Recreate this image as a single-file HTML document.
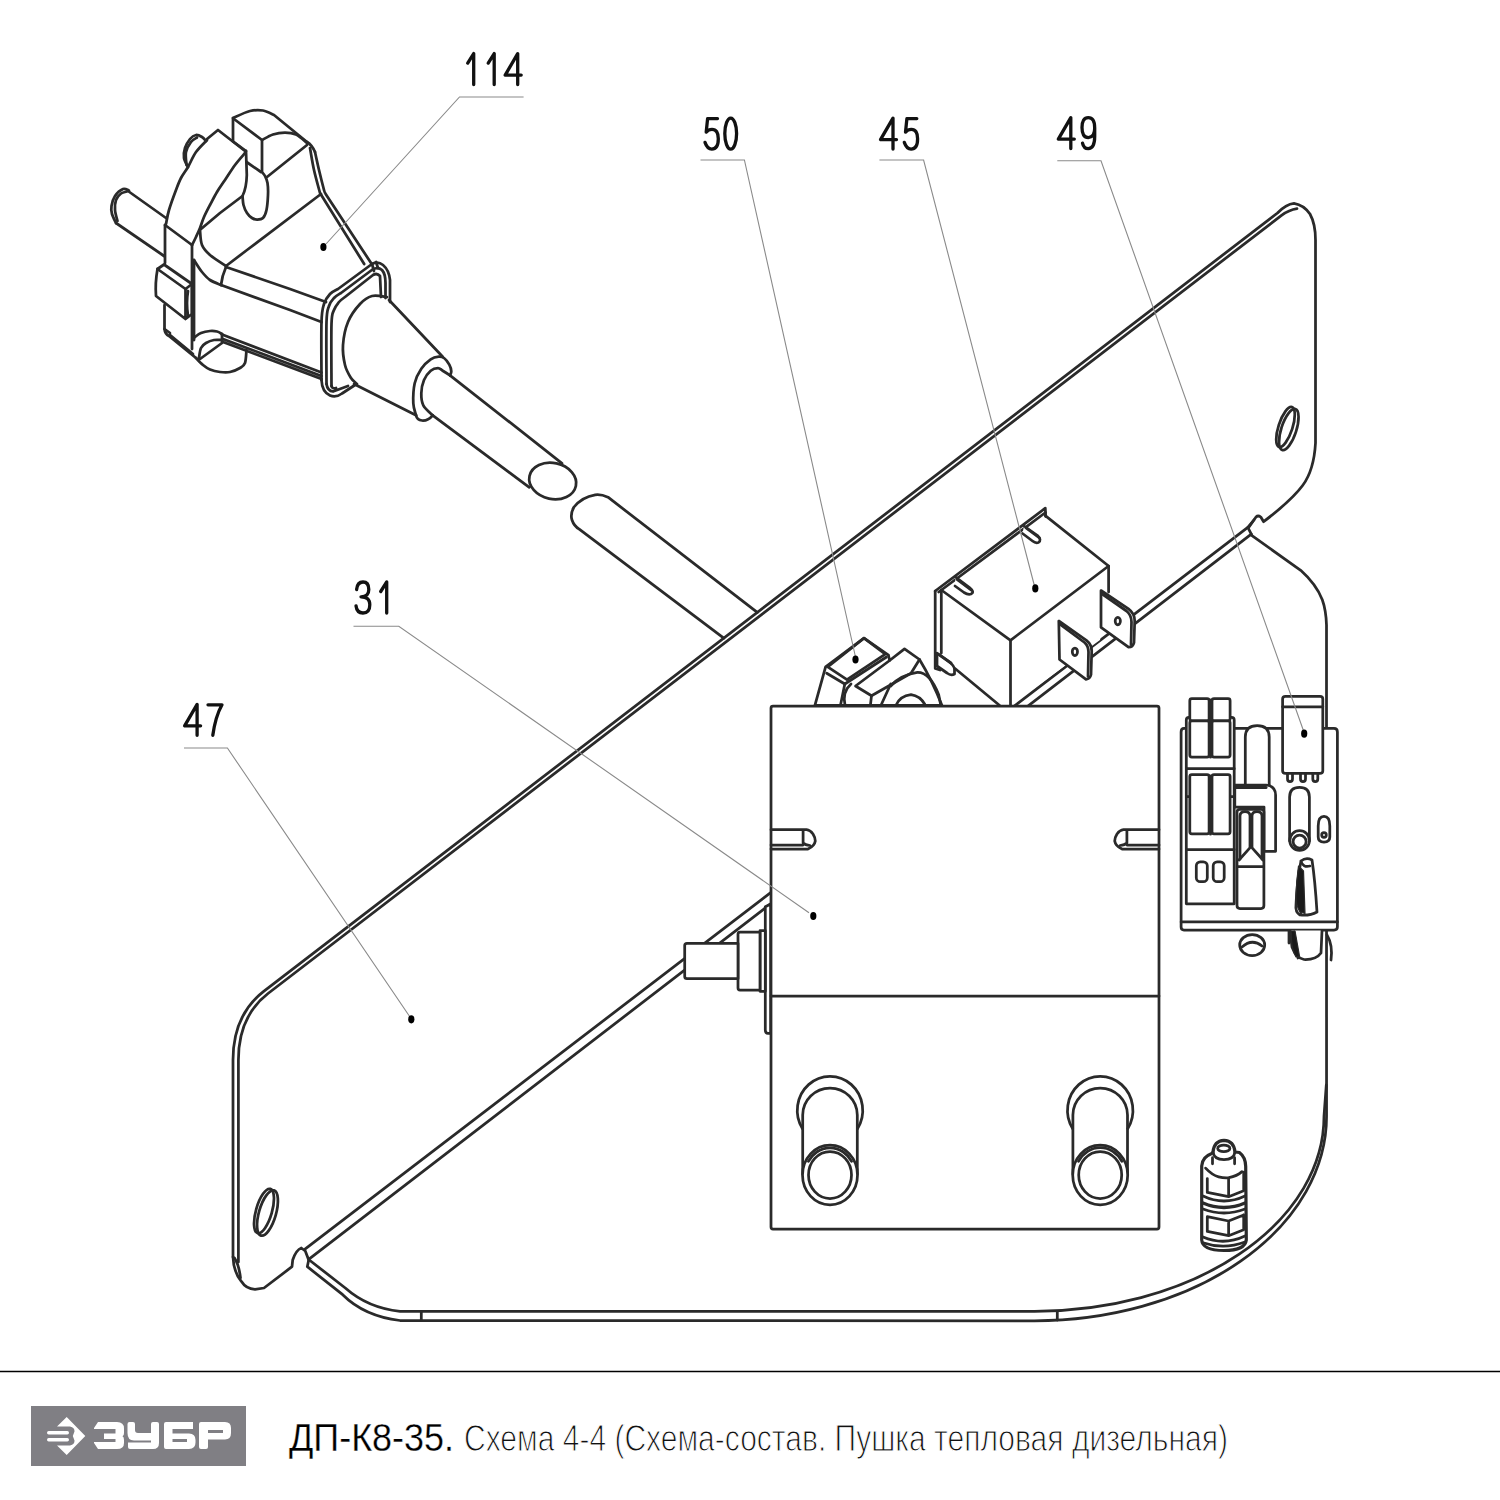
<!DOCTYPE html>
<html><head><meta charset="utf-8">
<style>
html,body{margin:0;padding:0;background:#fff;}
body{width:1500px;height:1500px;overflow:hidden;position:relative;}
svg{position:absolute;left:0;top:0;}
</style></head><body>
<svg width="1500" height="1500" viewBox="0 0 1500 1500">
<g fill="none" stroke="#2a2a2a" stroke-width="2.75" stroke-linejoin="round" stroke-linecap="round">
<path d="M233 1257 L233 1060 Q233 1015 264 991.1 L1277.5 213 Q1286 204 1294 203.3 Q1304 205 1310 214 Q1315.5 224 1315.5 240 L1315.5 443 Q1314 470 1302.8 485.3 Q1292 500 1263.6 521.7 L1260.8 517 Q1258 515 1256 517 L1248.7 527.5"/>
<path d="M238.4 1262 L238.4 1060 Q238.4 1016.5 268 993.5 L1281.5 215.4 Q1289 210 1297 208.7"/>
<path d="M233 1257 Q233.5 1272 241.3 1281.3 Q246 1289 255 1289.3 L264 1288 L292 1266.7 L292.7 1260 Q296 1250 301.3 1248 L305.3 1251 L308.7 1260"/>
<path d="M234.5 1258 Q239 1265 240.5 1278"/>
<ellipse cx="1285.5" cy="427" rx="7" ry="21" transform="rotate(18 1285.5 427)"/>
<ellipse cx="1288.8" cy="429.5" rx="7.5" ry="21.5" transform="rotate(18 1288.8 429.5)"/>
<ellipse cx="264" cy="1211" rx="8" ry="23" transform="rotate(16 264 1211)"/>
<ellipse cx="267.5" cy="1213" rx="8.5" ry="23.5" transform="rotate(16 267.5 1213)"/>
<path d="M305.3 1248.9 L1247.8 527.4 L1253.9 520.0"/>
<path d="M309.3 1258.8 L1251.3 534.2"/>
<path d="M1247.8 527.4 L1251.3 534.2"/>
<path d="M309.3 1260 L345.3 1288 Q368 1308 400 1311.3 L1034.5 1311.3 A289.5 195 0 0 0 1324 1116.3 L1326.3 1085"/>
<path d="M308.7 1260 L307.3 1266.7 L342.7 1294.7 Q364 1316 400 1320.5 L1034.5 1320.8 A292.06 204.5 0 0 0 1326.55 1116.3 L1326.5 625 Q1326 610 1322.3 599.7 Q1316 584 1300.7 570.3 L1251.3 535.2"/>
<path d="M421.3 1311.3 L421.3 1320 M1057.3 1311.3 L1057.3 1320"/>
</g>
<g fill="none" stroke="#2a2a2a" stroke-width="2.75" stroke-linejoin="round" stroke-linecap="round">
<path d="M935.2 591 L1045.3 508.2 L1045.7 516 L1108.6 566 L1108.6 600 L1100 640 L1011 705.5 L999.7 705.5 L955.3 668.7 L935.2 668 Z" fill="#fff" stroke="none"/>
<path d="M935.2 591 L1045.3 508.2 L1045.7 516.5"/>
<path d="M938.7 592 L1045.5 512.5"/>
<path d="M935.2 591 L935.2 668.5 L940 670 M941.3 590.1 L941.3 653"/>
<path d="M942 590.5 L1010.5 640.3 L1108.6 566 L1045.3 515.6"/>
<path d="M1010.5 640.3 L1010.5 705.5"/>
<path d="M1108.6 566 L1108.6 592"/>
<path d="M955.3 668.7 L999.7 705.5"/>
<path d="M937 653 L948 661 Q955 666 954.5 670 L954.5 674 Q951 676 947 673 L937 666 Z" fill="#fff"/>
<path d="M939.5 655 L951 663"/>
<path d="M955.5 577 L969.5 587.5 Q975 592 971 594 Q968 595 964 592.5 L955 586" fill="#fff"/>
<path d="M957 579.5 L971 590"/>
<path d="M1024 526 L1037.5 535.5 Q1042 540 1038.5 542.5 Q1035.5 543.5 1032.5 541 L1022.5 533.5" fill="#fff"/>
<path d="M1026 528 L1039.5 538"/>
<path d="M1058.8 621 L1086.4 640.3 Q1091.7 644.5 1091.7 651 L1091 674.8 Q1090 679 1086 679.4 L1059.5 659.5 Z" fill="#fff"/>
<path d="M1059.5 624 L1084.5 642.5 Q1088.5 646 1088.5 652 L1088 676.5"/>
<ellipse cx="1074.9" cy="651.8" rx="2.6" ry="3.8"/>
<path d="M1101 590.5 L1128.5 608.9 Q1134.7 613.5 1134.7 621 L1134 642.6 Q1133 647 1128.5 647.2 L1101 627.3 Z" fill="#fff"/>
<path d="M1101.5 593.5 L1126.5 611 Q1131.5 615 1131.5 622 L1131 644.5"/>
<ellipse cx="1117.8" cy="621.1" rx="2.6" ry="3.8"/>
</g>
<g fill="none" stroke="#2a2a2a" stroke-width="2.75" stroke-linejoin="round" stroke-linecap="round">
<path d="M814.9 705.3 L825.6 666.9 L864 638.1 L888.5 655.2 L889.6 660.5 L904.5 648.8 L919.5 659.5 Q932 680 941.9 705.3 Z" fill="#fff"/>
<path d="M827.7 666.9 L864 638.1 L885.3 654.1 L847 679.7 Z"/>
<path d="M826.7 673.3 L844.8 684 L886.5 657"/>
<path d="M844.8 684 L840.5 705.3"/>
<path d="M851 684 Q842 692 845 705.3"/>
<path d="M889.6 660.5 L855.5 686 L871.5 695.7 L911 673.3 L919.5 659.5"/>
<path d="M871.5 695.7 L870.4 705.3 M881 705.3 L890.7 684"/>
<path d="M890.7 686 Q900 675 917.3 672.3 Q930 672 938.7 694.7 L940.8 705.3"/>
<path d="M896 705.3 Q900 696 911 694.7 Q920 696 924.8 704.3"/>
</g>
<g fill="none" stroke="#2a2a2a" stroke-width="2.75" stroke-linejoin="round" stroke-linecap="round">
<path d="M1181.1 732 Q1181.1 728.4 1184 728.4 L1334 728.4 Q1337.4 728.4 1337.4 732 L1337.4 927 Q1337.4 930 1334 930 L1184 930 Q1181.1 930 1181.1 927 Z" fill="#fff"/>
<path d="M1181.1 921.9 L1337.4 921.9"/>
<path d="M1186.3 720 Q1186.3 717.3 1189 717.3 L1231.5 717.3 Q1234.2 717.3 1234.2 720 L1234.2 903.8 L1186.3 903.8 Z" fill="#fff"/>
<path d="M1186.3 768.7 L1234.2 768.7 M1186.3 849.6 L1234.2 849.6 M1186.3 796.7 L1234.2 796.7"/>
<rect x="1189.8" y="698.7" width="19.3" height="22.1" rx="2" fill="#fff"/>
<rect x="1189.8" y="720.8" width="19.3" height="36.2" rx="2" fill="#fff"/>
<rect x="1189.8" y="774.5" width="19.3" height="59.3" rx="2" fill="#fff"/>
<rect x="1212.0" y="698.7" width="18.1" height="22.1" rx="2" fill="#fff"/>
<rect x="1212.0" y="720.8" width="18.1" height="36.2" rx="2" fill="#fff"/>
<rect x="1212.0" y="774.5" width="18.1" height="59.3" rx="2" fill="#fff"/>
<path d="M1210.5 700 L1210.5 757 M1210.5 776 L1210.5 834" stroke-width="3"/>
<rect x="1196.3" y="861.8" width="11" height="19.9" rx="4"/>
<rect x="1213.2" y="861.8" width="11" height="19.9" rx="4"/>
<path d="M1245.3 785 L1245.3 737 Q1245.3 725.5 1257.2 725.5 Q1269.2 725.5 1269.2 737 L1269.2 785" fill="#fff"/>
<path d="M1234.8 785 L1266 785 Q1275.6 786 1275.6 795 L1275.6 851.3 L1264 851.3 L1264 807 L1234.8 807 Z" fill="#fff"/>
<path d="M1234.8 787.5 L1266 787.5" stroke-width="3"/>
<path d="M1237 812 Q1237 809.3 1240 809.3 L1261 809.3 Q1263.9 809.3 1263.9 812 L1263.9 905.5 Q1263.9 908.5 1261 908.5 L1240 908.5 Q1237 908.5 1237 905.5 Z" fill="#fff"/>
<path d="M1240 859 L1240 816 Q1240 811.5 1245 811.5 Q1250 811.5 1250 816 L1250 846.7 M1252 846.7 L1252 816 Q1252 811.5 1257 811.5 Q1262 811.5 1262 816 L1262 859"/>
<path d="M1239 860 L1251 846.7 L1263 860 M1238 866.5 L1263.5 866.5"/>
<path d="M1282.6 699 Q1282.6 696.3 1285.5 696.3 L1320 696.3 Q1322.8 696.3 1322.8 699 L1322.8 771 Q1322.8 773.3 1320 773.3 L1285.5 773.3 Q1282.6 773.3 1282.6 771 Z" fill="#fff"/>
<path d="M1282.6 706.8 L1322.8 706.8"/>
<path d="M1287.5 773.3 L1287.5 779 Q1287.5 781.5 1290.0 781.5 Q1292.5 781.5 1292.5 779 L1292.5 773.3"/>
<path d="M1300.5 773.3 L1300.5 779 Q1300.5 781.5 1303.0 781.5 Q1305.5 781.5 1305.5 779 L1305.5 773.3"/>
<path d="M1312.8 773.3 L1312.8 779 Q1312.8 781.5 1315.3 781.5 Q1317.8 781.5 1317.8 779 L1317.8 773.3"/>
<path d="M1289.6 841 L1289.6 797 Q1289.6 787.3 1299.5 787.3 Q1309.4 787.3 1309.4 797 L1309.4 841" fill="#fff"/>
<circle cx="1299.6" cy="840.5" r="9.8" fill="#fff"/>
<circle cx="1299.6" cy="841.5" r="6.5"/>
<path d="M1318.2 826 Q1318.2 816.3 1324 816.3 Q1329.8 816.3 1329.8 826 L1329.8 837 Q1329.8 842 1324 842 Q1318.2 842 1318.2 837 Z" fill="#fff"/>
<circle cx="1324" cy="835" r="2.3"/>
<path d="M1301 861 Q1306 857 1312 860 Q1315 880 1317 912 Q1310 916 1300 915 Q1295 912 1296 905 Q1297 880 1301 861 Z" fill="#fff"/>
<path d="M1301 861 Q1303 868 1310 866 M1299 870 Q1298 890 1301 913" stroke-width="2.6"/>
<path d="M1298.5 866 L1303.5 871 L1305 913.5 L1300 912 Q1296 906 1296 896 Q1296.5 880 1298.5 866 Z" fill="#1a1a1a" stroke-width="1.2"/>
<ellipse cx="1252.2" cy="945.1" rx="12.5" ry="10.5"/>
<path d="M1242 947 Q1252 938 1262 946"/>
<path d="M1290 930.5 L1292 947 Q1296 958 1304 959.5 Q1316 960 1321 953 L1322 930.5" fill="#fff"/>
<path d="M1289 930.5 L1289 943 M1294 932 L1298 958"/>
<path d="M1291 931 L1295 931 L1299.5 956 L1296 957 Q1292 950 1291.5 940 Z" fill="#1a1a1a" stroke-width="1.2"/>
<path d="M1327 935 Q1333 945 1331 960"/>
</g>
<g fill="none" stroke="#2a2a2a" stroke-width="2.75" stroke-linejoin="round" stroke-linecap="round">
<path d="M1201.7 1166 Q1202 1157 1211.7 1153.4 L1213 1152 Q1214 1141 1224 1140.4 Q1234 1141 1235 1152 L1239.4 1152.5 Q1245.5 1157 1245.7 1166.4 L1246.3 1240 Q1245 1250.5 1224 1250.5 Q1202.5 1250.5 1201.7 1240 Z" fill="#fff" stroke-width="3.2"/>
<path d="M1213 1152 Q1214 1159.5 1224 1159.5 Q1234 1159.5 1235 1152"/>
<ellipse cx="1223.8" cy="1148.4" rx="6.1" ry="3.3"/>
<path d="M1212.5 1157.7 L1212.5 1163.8 M1234.6 1157.7 L1234.6 1163.8"/>
<path d="M1205.6 1168.1 Q1212 1175 1218.6 1176.8 Q1224 1178.2 1229 1177.7 Q1237 1176 1242 1171.6"/>
<path d="M1207.3 1178.5 L1207.3 1192.4 L1228.6 1196.7 L1243.7 1190.7 M1228.6 1178 L1228.6 1196.7 M1243.7 1172 L1243.7 1190.7"/>
<path d="M1203 1196 Q1224 1206 1245 1196" stroke-width="2.8"/>
<path d="M1203 1203 Q1224 1212 1245 1203" stroke-width="3.4"/>
<path d="M1203 1209 Q1224 1217 1245 1209" stroke-width="2.8"/>
<path d="M1207.3 1216.7 L1228.6 1221 L1243.7 1214.9 M1207.3 1216.7 L1207.3 1231.4 L1228.6 1235.7 L1243.7 1229.7 M1228.6 1221 L1228.6 1235.7 M1243.7 1214.9 L1243.7 1229.7"/>
<path d="M1203 1237 Q1224 1246 1245 1236" stroke-width="2.8"/>
<path d="M1203 1242.7 Q1224 1250 1245 1242" stroke-width="2.8"/>
</g>
<g fill="none" stroke="#2a2a2a" stroke-width="2.75" stroke-linejoin="round" stroke-linecap="round">
<path d="M765.3 906.7 L770.7 904 L770.7 1033.3 L768 1033.3 Q765.3 1033.3 765.3 1030 Z" fill="#fff"/>
<path d="M760 930.7 L765.3 930.7 L765.3 991.3 L760 991.3 Z" fill="#fff"/>
<path d="M738 934 Q738 932 740 932 L760 932 L760 990 L740 990 Q738 990 738 988 Z" fill="#fff"/>
<path d="M684.7 945.5 Q684.7 943.3 687 943.3 L738 943.3 L738 978.7 L687 978.7 Q684.7 978.7 684.7 976.5 Z" fill="#fff"/>
</g>
<g fill="none" stroke="#2a2a2a" stroke-width="2.75" stroke-linejoin="round" stroke-linecap="round">
<rect x="771" y="706" width="388" height="523" rx="2" fill="#fff"/>
<path d="M771 996 L1159 996"/>
<path d="M771 829.7 L806.6 829.7 Q810 830 813 834 Q815.5 838 815.3 841 Q814.5 846 808 849 L771 849"/>
<path d="M803.1 830.5 L803.1 843 Q805 845 810 845.5"/>
<path d="M771 845 L803 845"/>
<g transform="translate(1930 0) scale(-1 1)"><path d="M771 829.7 L806.6 829.7 Q810 830 813 834 Q815.5 838 815.3 841 Q814.5 846 808 849 L771 849"/>
<path d="M803.1 830.5 L803.1 843 Q805 845 810 845.5"/>
<path d="M771 845 L803 845"/>
</g>
<path d="M802.5 1128.7 A32.7 34 0 1 1 857.5 1128.7"/>
<path d="M802.7 1174 L802.7 1115 A27.3 27 0 0 1 857.3 1115 L857.3 1174"/>
<ellipse cx="830.0" cy="1175" rx="27.5" ry="29.8" fill="#fff"/>
<path d="M808.4 1161.4 A25 27.3 0 0 1 851.6 1161.4"/>
<ellipse cx="830.0" cy="1175" rx="21.5" ry="23.5"/>
<path d="M1072.7 1128.7 A32.7 34 0 1 1 1127.7 1128.7"/>
<path d="M1072.9 1174 L1072.9 1115 A27.3 27 0 0 1 1127.5 1115 L1127.5 1174"/>
<ellipse cx="1100.2" cy="1175" rx="27.5" ry="29.8" fill="#fff"/>
<path d="M1078.5 1161.4 A25 27.3 0 0 1 1121.9 1161.4"/>
<ellipse cx="1100.2" cy="1175" rx="21.5" ry="23.5"/>
</g>
<g fill="none" stroke="#2a2a2a" stroke-width="2.75" stroke-linejoin="round" stroke-linecap="round">
<path d="M757.3 612.4 L608 497.2 Q601 494 595.2 494.8 Q582 497 574 507 Q570 514 572 520 Q574 526 579.2 529.2 L723.8 638.1"/>
<path d="M450 375.3 L562 463.3"/>
<path d="M432.7 415.3 L529.3 487.3"/>
<ellipse cx="552.7" cy="481" rx="23.7" ry="18" transform="rotate(12 552.7 481)"/>
<path d="M416.0 415.3 C415.6 413.3 413.5 408.6 413.3 403.3 C413.1 398.0 413.4 389.1 414.7 383.3 C416.0 377.5 418.6 372.7 421.3 368.7 C424.0 364.7 427.8 361.3 430.7 359.3 C433.6 357.3 436.5 356.9 438.7 356.7 C440.9 356.5 442.2 356.7 444.0 358.0 C445.8 359.3 448.1 362.5 449.3 364.7 C450.5 366.9 451.2 369.5 451.3 371.3 C451.4 373.1 450.2 374.6 450.0 375.3"/>
<path d="M416 415.3 Q417 420 422 420.5 Q428 421 432.7 415.3"/>
<path d="M432.7 415.3 C431.1 413.6 425.2 409.0 423.3 405.3 C421.4 401.6 421.2 397.5 421.3 393.3 C421.4 389.1 422.4 383.8 424.0 380.0 C425.6 376.2 428.4 372.7 430.7 370.7 C433.0 368.7 436.0 368.0 438.0 368.0 C440.0 368.0 440.7 369.5 442.7 370.7 C444.7 371.9 448.8 374.5 450.0 375.3"/>
<path d="M389 300 L442.7 356.7"/>
<path d="M354 384 L416 415.3"/>
<path d="M321.5 380.0 C321.5 370.3 321.1 334.7 321.5 322.0 C321.9 309.3 322.6 308.7 324.0 304.0 C325.4 299.3 327.7 296.5 330.0 294.0 C332.3 291.5 336.7 289.8 338.0 289.0 L372 264 Q378 261 383 265 Q389 270 390 280 L390 302"/>
<path d="M321.5 380 Q322 392 330 395.5 Q336 398 342 393.5 L355 385"/>
<path d="M326.5 384.0 C326.5 373.7 326.1 335.0 326.5 322.0 C326.9 309.0 327.8 310.0 329.0 306.0 C330.2 302.0 332.0 300.2 334.0 298.0 C336.0 295.8 339.8 293.8 341.0 293.0 L372.5 269.5 Q378 266.5 382 270 Q385.5 274 385.5 283 L385.5 298"/>
<path d="M331.5 386.0 C331.5 375.7 331.1 336.7 331.5 324.0 C331.9 311.3 332.8 313.7 334.0 310.0 C335.2 306.3 337.2 304.2 339.0 302.0 C340.8 299.8 344.0 297.8 345.0 297.0 L373 275 Q377 272.5 380 276 L381 297"/>
<path d="M326.5 384 Q327.5 391 333 391.5 L348 386 M331.5 386 Q332 389 336 388"/>
<path d="M372 264 L374 271 M376 262 L378 268"/>
<path d="M387.0 297.0 C384.5 296.8 376.5 294.8 372.0 296.0 C367.5 297.2 364.0 299.7 360.0 304.0 C356.0 308.3 350.8 315.2 348.0 322.0 C345.2 328.8 343.5 337.8 343.0 345.0 C342.5 352.2 343.7 359.5 345.0 365.0 C346.3 370.5 349.0 374.8 351.0 378.0 C353.0 381.2 356.0 383.0 357.0 384.0"/>
<path d="M310.0 148.0 C310.7 151.7 312.3 162.5 314.0 170.0 C315.7 177.5 319.0 189.2 320.0 193.0 L364.2 264"/>
<path d="M315.0 152.0 C315.7 155.0 317.5 163.7 319.0 170.0 C320.5 176.3 323.0 186.2 324.0 190.0 C325.0 193.8 324.8 192.5 325.0 193.0 L371.7 264"/>
<path d="M307 142 Q312 145 315 152"/>
<path d="M321 194 L247 250 L226 266"/>
<path d="M226 267 L290 289 L326 302"/>
<path d="M221 285 L290 310 L321.5 322"/>
<path d="M222 334.5 L321.5 372.5"/>
<path d="M223 339 L321.5 376 M223 342 L321.5 379"/>
<path d="M226 267 Q222 276 221 285"/>
<path d="M233.0 118.0 C235.8 116.8 245.0 112.2 250.0 111.0 C255.0 109.8 259.0 109.8 263.0 110.5 C267.0 111.2 272.2 114.2 274.0 115.0 L307 142"/>
<path d="M233 118 L233 141"/>
<path d="M234 119 L262 140 L262 171"/>
<path d="M262.0 140.0 C263.8 139.1 269.2 135.8 273.0 134.5 C276.8 133.2 281.2 132.5 285.0 132.5 C288.8 132.5 292.3 132.8 296.0 134.5 C299.7 136.2 305.2 141.6 307.0 143.0"/>
<path d="M307 145 L267 177"/>
<path d="M232.5 141 L246 151 M246.5 162 L261 172"/>
<path d="M242.5 196.0 C242.7 197.5 242.8 202.2 243.5 205.0 C244.2 207.8 245.6 210.8 247.0 213.0 C248.4 215.2 250.3 216.9 252.0 218.0 C253.7 219.1 255.2 219.5 257.0 219.5 C258.8 219.5 261.4 219.6 263.0 218.0 C264.6 216.4 265.7 213.8 266.5 210.0 C267.3 206.2 267.8 199.5 268.0 195.0 C268.2 190.5 268.0 186.2 267.5 183.0 C267.0 179.8 265.9 177.8 265.0 176.0 C264.1 174.2 262.5 172.7 262.0 172.0"/>
<path d="M207 139 L218 130 L245 151"/>
<path d="M207.0 140.0 C205.2 142.0 199.2 147.5 196.0 152.0 C192.8 156.5 190.5 162.7 188.0 167.0 C185.5 171.3 183.0 174.2 181.0 178.0 C179.0 181.8 178.0 184.7 176.0 190.0 C174.0 195.3 170.7 204.3 169.0 210.0 C167.3 215.7 166.5 221.7 166.0 224.0"/>
<path d="M245.0 153.0 C243.3 155.0 238.3 160.5 235.0 165.0 C231.7 169.5 228.0 175.5 225.0 180.0 C222.0 184.5 219.5 187.8 217.0 192.0 C214.5 196.2 212.2 200.8 210.0 205.0 C207.8 209.2 205.7 213.2 204.0 217.0 C202.3 220.8 201.3 224.7 200.0 228.0 C198.7 231.3 197.3 234.2 196.0 237.0 C194.7 239.8 192.7 243.7 192.0 245.0"/>
<path d="M165 225 L192 245"/>
<path d="M246 151 L246.8 175 Q246.5 188 242.5 196 L220 213 L201 229"/>
<path d="M188.0 167.0 C187.3 165.5 184.5 161.2 184.0 158.0 C183.5 154.8 184.0 151.2 185.0 148.0 C186.0 144.8 188.2 141.2 190.0 139.0 C191.8 136.8 194.0 135.3 196.0 135.0 C198.0 134.7 200.3 136.0 202.0 137.0 C203.7 138.0 205.3 140.3 206.0 141.0"/>
<path d="M186.5 165.0 C186.4 162.8 185.2 155.8 186.0 152.0 C186.8 148.2 189.2 144.4 191.0 142.0 C192.8 139.6 196.0 138.2 197.0 137.5"/>
<path d="M128 191 L166 218"/>
<path d="M116 223 L164 256"/>
<path d="M116.0 223.0 C115.3 221.5 112.8 216.8 112.0 214.0 C111.2 211.2 111.0 209.0 111.5 206.0 C112.0 203.0 113.1 198.8 115.0 196.0 C116.9 193.2 120.7 189.9 123.0 189.0 C125.3 188.1 128.0 190.2 129.0 190.5"/>
<path d="M117.5 221.0 C117.1 219.2 115.2 213.5 115.0 210.0 C114.8 206.5 115.0 202.8 116.0 200.0 C117.0 197.2 119.2 194.9 121.0 193.5 C122.8 192.1 126.0 191.8 127.0 191.5"/>
<path d="M165 225 L165 263 M164.5 305 L164.5 329 Q165 334 169 336 L196 358"/>
<path d="M192 245 L192 349 M194 260 L194 340"/>
<path d="M200.0 230.0 C200.3 232.5 200.3 240.8 202.0 245.0 C203.7 249.2 206.0 251.5 210.0 255.0 C214.0 258.5 223.3 264.2 226.0 266.0"/>
<path d="M194.0 260.0 C195.3 262.0 199.3 268.7 202.0 272.0 C204.7 275.3 206.8 277.8 210.0 280.0 C213.2 282.2 219.2 284.2 221.0 285.0"/>
<path d="M157.5 269 L164 264.5 L192 284 L185.5 289 Z" fill="#fff"/>
<path d="M157.5 269 Q155 283 156 296 L185.5 319 L185.5 289 M185.5 319 L192 314 L192 286"/>
<path d="M188 291 Q186 303 188 316"/>
<path d="M195.0 337.0 C196.0 336.3 198.5 334.0 201.0 333.0 C203.5 332.0 207.3 331.2 210.0 331.0 C212.7 330.8 215.0 331.0 217.0 331.5 C219.0 332.0 221.2 333.6 222.0 334.0"/>
<path d="M199.0 358.0 C199.3 356.3 199.8 350.5 201.0 348.0 C202.2 345.5 203.8 344.3 206.0 343.0 C208.2 341.7 211.3 340.5 214.0 340.0 C216.7 339.5 220.7 340.0 222.0 340.0"/>
<path d="M200 359 L222 343 M222 334 L222 343"/>
<path d="M196.0 358.0 C197.2 359.2 200.7 363.1 203.0 365.0 C205.3 366.9 207.2 368.3 210.0 369.5 C212.8 370.7 216.7 371.6 220.0 372.0 C223.3 372.4 226.7 372.7 230.0 372.0 C233.3 371.3 237.5 369.5 240.0 368.0 C242.5 366.5 243.9 366.0 245.0 363.0 C246.1 360.0 246.2 352.2 246.5 350.0"/>
<path d="M193 354 L170 335 M170 333 L164.5 329"/>
</g>
<g fill="none" stroke="#8a8a8a" stroke-width="1.1">
<path d="M523.6 97 L459.5 97 L326 244"/>
<path d="M700.5 160 L744.4 160 L855.5 657"/>
<path d="M879.4 160 L923.6 160 L1035 588"/>
<path d="M1057.3 160.7 L1101 160.7 L1305 735"/>
<path d="M353.5 626.2 L398.8 626.2 L809 912.7"/>
<path d="M184 748 L227.4 748 L410 1017"/>
</g>
<g fill="#000">
<ellipse cx="323.4" cy="247.0" rx="3.1" ry="4.1"/>
<ellipse cx="813.3" cy="916.0" rx="3.1" ry="4.1"/>
<ellipse cx="411.3" cy="1019.3" rx="3.1" ry="4.1"/>
<ellipse cx="1035.3" cy="588.4" rx="3.1" ry="4.1"/>
<ellipse cx="855.5" cy="659.5" rx="3.1" ry="4.1"/>
<ellipse cx="1304.2" cy="733.7" rx="3.1" ry="4.1"/>
</g>
<g fill="none" stroke="#111" stroke-width="3.3" stroke-linecap="round" stroke-linejoin="round">
<g transform="translate(466.2 53.6)"><path d="M1.5 9.5 L7.5 0 L7.5 31"/></g>
<g transform="translate(486.7 53.6)"><path d="M1.5 9.5 L7.5 0 L7.5 31"/></g>
<g transform="translate(505.2 53.6)"><path d="M12.5 31 L12.5 0 L0 21.5 L16 21.5"/></g>
<g transform="translate(705.0 118.1)"><path d="M12.5 0.5 L2.6 0.5 L1.2 14 Q3.5 11.3 7 11.3 Q13.3 11.3 13.3 20.7 Q13.3 31 6.8 31 Q2.3 31 0 24.3"/></g>
<g transform="translate(724.2 118.1)"><ellipse cx="6.5" cy="15.5" rx="5.9" ry="15.5"/></g>
<g transform="translate(880.5 118.1)"><path d="M12.5 31 L12.5 0 L0 21.5 L16 21.5"/></g>
<g transform="translate(904.3 118.1)"><path d="M12.5 0.5 L2.6 0.5 L1.2 14 Q3.5 11.3 7 11.3 Q13.3 11.3 13.3 20.7 Q13.3 31 6.8 31 Q2.3 31 0 24.3"/></g>
<g transform="translate(1058.3 117.6)"><path d="M12.5 31 L12.5 0 L0 21.5 L16 21.5"/></g>
<g transform="translate(1081.7 117.6)"><path d="M13 10.5 Q13 0 6.6 0 Q0.3 0 0.3 10 Q0.3 20 6.6 20 Q13 20 13 10.5 L13 19 Q13 31 6.5 31 Q2 31 0.8 25.5"/></g>
<g transform="translate(356.0 582.0)"><path d="M0.6 7.5 Q1.3 0 7 0 Q12.8 0 12.8 7.5 Q12.8 14.8 5 14.8 M5 14.8 Q13.8 14.8 13.8 22.8 Q13.8 31 7 31 Q0.8 31 0 23.8"/></g>
<g transform="translate(379.2 582.0)"><path d="M1.5 9.5 L7.5 0 L7.5 31"/></g>
<g transform="translate(184.6 704.3)"><path d="M12.5 31 L12.5 0 L0 21.5 L16 21.5"/></g>
<g transform="translate(208.0 704.3)"><path d="M0 0.5 L14 0.5 Q7.5 12 4.8 31"/></g>
</g>
<line x1="0" y1="1371.5" x2="1500" y2="1371.5" stroke="#000" stroke-width="1.5"/>
<rect x="31" y="1406" width="215" height="60" fill="#807f84"/>
<g fill="#fff" fill-rule="evenodd">
<path d="M66.7 1417 L85.3 1436 L66.7 1455 L57 1445.5 H70 Q74.8 1444.5 74.5 1440.5 L72.8 1436 L74.5 1431.5 Q74.8 1427.5 70 1426.5 H57 Z"/>
<rect x="47" y="1431" width="22" height="3.4" rx="1.7"/>
<rect x="47" y="1438" width="22" height="3.4" rx="1.7"/>
<path d="M94 1428 L98 1422 H117 Q124 1422 124 1428.5 V1433 Q124 1436 122.5 1436.2 Q124 1437 124 1440 V1443 Q124 1449 117 1449 H98 L94 1443 V1442 H115.5 V1439 H104 V1433.5 H115.5 V1429 H94 Z"/>
<path d="M127.5 1424 Q127.5 1422 129.5 1422 H133 Q135 1422 135 1424 V1430 Q135 1433 138 1433 H151 V1424 Q151 1422 153 1422 H157 Q159 1422 159 1424 V1443 Q159 1449 153 1449 H130 Q128 1449 128 1447 V1442.5 H151 V1440.5 H134 Q127.5 1440.5 127.5 1433 Z"/>
<path d="M164 1424 Q164 1422 166 1422 H193 V1429 H172.5 V1433.5 H189 Q195.5 1433.5 195.5 1440 V1442.5 Q195.5 1449 189 1449 H166 Q164 1449 164 1447 Z M172.5 1439 V1442 H187 V1439 Z"/>
<path d="M199 1424 Q199 1422 201 1422 H225 Q231 1422 231 1428 V1433 Q231 1439.5 225 1439.5 H208 V1447 Q208 1449 206 1449 H201 Q199 1449 199 1447 Z M208 1430 V1433 H223 V1430 Z"/>
</g>
<text x="289" y="1451" font-family="Liberation Sans" font-size="38" fill="#000" stroke="#fff" stroke-width="0.3" textLength="165" lengthAdjust="spacingAndGlyphs">ДП-К8-35.</text>
<text x="464" y="1451" font-family="Liberation Sans" font-size="37" fill="#111" stroke="#fff" stroke-width="1.1" textLength="764" lengthAdjust="spacingAndGlyphs">Схема 4-4 (Схема-состав. Пушка тепловая дизельная)</text>
</svg>
</body></html>
